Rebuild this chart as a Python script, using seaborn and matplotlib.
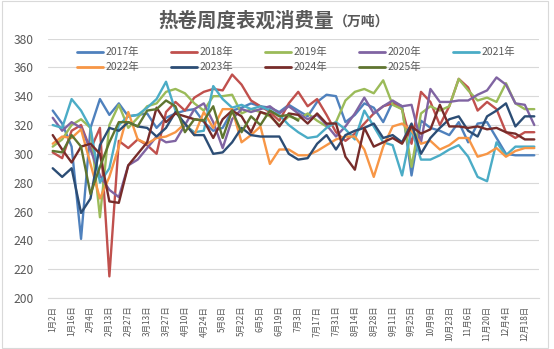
import numpy as np
import pandas as pd
import matplotlib
matplotlib.use("Agg")
import matplotlib.pyplot as plt
import seaborn as sns
from matplotlib.patches import Rectangle

# ---------------- data ----------------
weeks = ['1月2日', '1月9日', '1月16日', '1月23日', '2月4日', '2月6日', '2月13日', '2月20日',
         '2月27日', '3月6日', '3月13日', '3月20日', '3月27日', '4月3日', '4月10日', '4月17日',
         '4月24日', '5月1日', '5月8日', '5月15日', '5月22日', '5月29日', '6月5日', '6月12日',
         '6月19日', '6月26日', '7月3日', '7月10日', '7月17日', '7月24日', '7月31日', '8月7日',
         '8月14日', '8月21日', '8月28日', '9月4日', '9月11日', '9月18日', '9月25日', '10月2日',
         '10月9日', '10月16日', '10月23日', '10月30日', '11月6日', '11月13日', '11月20日',
         '11月27日', '12月4日', '12月11日', '12月18日', '12月25日']

years = ['2017年', '2018年', '2019年', '2020年', '2021年', '2022年', '2023年', '2024年', '2025年']

y2017 = [330, 321, 305, 241, 318, 338, 327, 335, 326, 327, 328, 318, 325, 328, 330, 331, 322, 316,
         318, 330, 332, 335, 333, 332, 329, 334, 330, 326, 336, 341, 340, 322, 327, 335, 332, 322,
         336, 333, 285, 323, 318, 316, 313, 322, 308, 321, 322, 311, 300, 299, 299, 299]
y2018 = [301, 297, 316, 320, 303, 318, 215, 309, 304, 310, 306, 300, 329, 336, 330, 339, 343, 345,
         344, 355, 348, 337, 333, 329, 323, 335, 343, 333, 338, 327, 315, 309, 314, 321, 328, 333,
         335, 331, 307, 343, 336, 320, 333, 352, 346, 330, 336, 331, 315, 311, 315, 315]
y2019 = [305, 310, 320, 324, 318, 256, 320, 334, 318, 325, 333, 335, 343, 345, 342, 335, 330, 340,
         340, 341, 328, 331, 329, 326, 320, 326, 324, 328, 323, 319, 322, 337, 343, 345, 342, 351,
         334, 331, 291, 328, 333, 330, 333, 352, 344, 337, 339, 336, 349, 335, 331, 331]
y2020 = [325, 316, 322, 318, 303, 285, 275, 270, 292, 296, 304, 312, 308, 309, 320, 331, 335, 322,
         304, 324, 331, 329, 331, 333, 328, 333, 328, 324, 327, 320, 312, 319, 328, 339, 328, 333,
         337, 333, 334, 308, 345, 336, 336, 337, 337, 341, 344, 353, 348, 335, 334, 320]
y2021 = [320, 318, 338, 330, 318, 280, 290, 320, 326, 327, 332, 338, 350, 330, 320, 315, 316, 347,
         338, 332, 334, 331, 333, 330, 327, 320, 315, 311, 312, 318, 322, 317, 310, 330, 319, 308,
         306, 285, 317, 296, 296, 299, 303, 306, 298, 284, 281, 308, 299, 305, 305, 305]
y2022 = [307, 312, 311, 317, 293, 269, 284, 305, 329, 310, 307, 311, 312, 315, 321, 313, 329, 318,
         331, 331, 308, 313, 319, 293, 303, 303, 299, 299, 302, 306, 310, 312, 312, 303, 284, 305,
         319, 321, 316, 307, 309, 303, 306, 311, 311, 298, 300, 304, 298, 302, 304, 304]
y2023 = [290, 284, 290, 259, 269, 306, 318, 316, 322, 319, 318, 312, 318, 329, 321, 313, 313, 300,
         301, 308, 318, 313, 312, 312, 312, 300, 296, 297, 307, 313, 303, 313, 316, 318, 321, 311,
         313, 308, 321, 300, 311, 318, 324, 326, 316, 312, 326, 330, 335, 319, 326, 326]
y2024 = [313, 303, 294, 305, 307, 300, 267, 266, 292, 300, 308, 332, 322, 328, 326, 324, 323, 311,
         324, 330, 326, 315, 329, 327, 319, 328, 327, 321, 328, 321, 321, 298, 289, 318, 305, 308,
         311, 307, 319, 314, 317, 334, 319, 319, 318, 319, 317, 318, 315, 314, 310, 310]
y2025 = [302, 301, 313, 305, 272, 291, 308, 322, 322, 319, 330, 331, 337, 333, 315, 324, 323, 333,
         311, 330, 315, 326, 320, 330, 326, 327, 323]

series = [y2017, y2018, y2019, y2020, y2021, y2022, y2023, y2024, y2025]
colors = ['#4F81BD', '#C0504D', '#9BBB59', '#8064A2', '#4BACC6',
          '#F79646', '#2C4D75', '#772C2A', '#5F7530']

rows = []
for yr, vals in zip(years, series):
    for i, v in enumerate(vals):
        rows.append({'idx': i, 'value': v, 'year': yr})
df = pd.DataFrame(rows)

# ---------------- style ----------------
sns.set_style("white")
plt.rcParams['font.family'] = ['Noto Sans CJK SC', 'DejaVu Sans']
plt.rcParams['axes.unicode_minus'] = False

W, H = 554, 349
fig = plt.figure(figsize=(W / 100, H / 100), dpi=100)
left, right, top, bottom = 48, 539, 38.5, 298
ax = fig.add_axes([left / W, 1 - bottom / H, (right - left) / W, (bottom - top) / H])

palette = dict(zip(years, colors))
sns.lineplot(data=df, x='idx', y='value', hue='year', hue_order=years,
             palette=palette, linewidth=1.7, ax=ax, legend=True, sort=False)

ax.set_xlim(-0.5, len(weeks) - 0.5)
ax.set_ylim(200, 380)
ax.set_yticks(np.arange(200, 381, 20))
ax.set_xticks(np.arange(0, len(weeks), 2))
ax.set_xticklabels(weeks[::2], rotation=90, fontsize=6, color='#595959')
ax.set_xticks(np.arange(-0.5, len(weeks), 1), minor=True)
ax.tick_params(axis='x', which='major', length=0, pad=5.5)
ax.tick_params(axis='x', which='minor', length=2.3, color='#D9D9D9', width=0.8)
ax.tick_params(axis='y', length=0, pad=10.5, labelsize=8.7, labelcolor='#595959')
ax.set_xlabel('')
ax.set_ylabel('')

ax.grid(axis='y', color='#D9D9D9', linewidth=0.8)
ax.set_axisbelow(True)
for s in ['top', 'right', 'left']:
    ax.spines[s].set_visible(False)
ax.spines['bottom'].set_color('#D9D9D9')
ax.spines['bottom'].set_linewidth(0.8)

# legend (row-major like the reference)
handles, labels = ax.get_legend_handles_labels()
hmap = dict(zip(labels, handles))
order = ['2017年', '2022年', '2018年', '2023年', '2019年', '2024年', '2020年', '2025年', '2021年']
leg = ax.legend([hmap[k] for k in order], order, ncol=5, loc='center left',
                bbox_to_anchor=(77 / W, 1 - 59.8 / H), bbox_transform=fig.transFigure,
                frameon=False, fontsize=7.5, handlelength=2.5, handletextpad=0.2,
                columnspacing=3.1, labelspacing=0.45, borderpad=0, borderaxespad=0,
                labelcolor='#595959')
for lh in leg.get_lines():
    lh.set_linewidth(2.0)

# title
fig.text(334 / W, 1 - 21 / H, '热卷周度表观消费量', ha='right', va='center',
         fontsize=14, fontweight='bold', color='#595959')
fig.text(334 / W, 1 - 22 / H, '（万吨）', ha='left', va='center',
         fontsize=10, fontweight='bold', color='#595959')

# chart border
fig.patches.append(Rectangle((2 / W, 1 / H), 546 / W, 347 / H, transform=fig.transFigure,
                             fill=False, edgecolor='#D9D9D9', linewidth=0.8))

fig.savefig('out.png', dpi=100)
